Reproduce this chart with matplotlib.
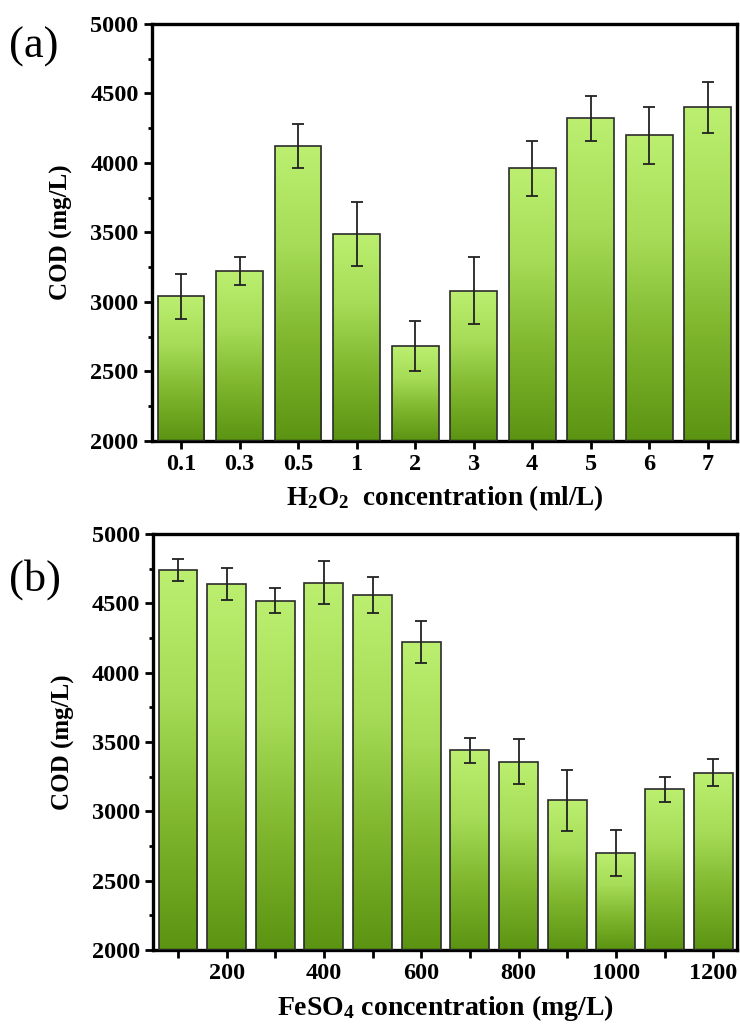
import numpy as np
import matplotlib
matplotlib.use("Agg")
import matplotlib.pyplot as plt
from matplotlib.colors import LinearSegmentedColormap
from matplotlib.ticker import MultipleLocator

plt.rcParams['font.family'] = ['Liberation Serif', 'DejaVu Serif']
plt.rcParams['mathtext.fontset'] = 'custom'
plt.rcParams['mathtext.rm'] = 'Liberation Serif:bold'
plt.rcParams['mathtext.it'] = 'Liberation Serif:bold'
plt.rcParams['mathtext.bf'] = 'Liberation Serif:bold'

# (a) H2O2 dose
h2o2_labels = ["0.1", "0.3", "0.5", "1", "2", "3", "4", "5", "6", "7"]
h2o2_cod = [3040, 3220, 4120, 3490, 2680, 3080, 3960, 4320, 4200, 4400]
h2o2_err = [160, 100, 160, 230, 180, 240, 200, 160, 205, 185]

# (b) FeSO4 dose
feso4_conc = [100, 200, 300, 400, 500, 600, 700, 800, 900, 1000, 1100, 1200]
feso4_cod = [4740, 4640, 4520, 4650, 4560, 4220, 3440, 3360, 3080, 2700, 3160, 3280]
feso4_err = [80, 115, 90, 155, 130, 150, 90, 165, 220, 165, 90, 100]

green = LinearSegmentedColormap.from_list(
    "grn", ["#5b9412", "#7fb62e", "#a6dc57", "#bcef70"])
grad = np.linspace(0, 1, 256).reshape(-1, 1)


def gradient_bars(ax, x, heights, width, base=2000):
    bars = ax.bar(x, np.array(heights) - base, width=width, bottom=base,
                  color="none", edgecolor="#2b2b2b", linewidth=1.2, zorder=3)
    for b in bars:
        x0, y0 = b.get_x(), b.get_y()
        w, h = b.get_width(), b.get_height()
        im = ax.imshow(grad, cmap=green, origin="lower", aspect="auto",
                       extent=(x0, x0 + w, y0, y0 + h), zorder=2)
        im.set_clip_path(b)
    return bars


def style_axis(ax):
    for s in ax.spines.values():
        s.set_linewidth(2.4)
    ax.set_ylim(2000, 5000)
    ax.yaxis.set_major_locator(MultipleLocator(500))
    ax.yaxis.set_minor_locator(MultipleLocator(250))
    ax.tick_params(axis="both", which="major", direction="out", length=6,
                   width=2, labelsize=17.5)
    ax.tick_params(axis="y", which="minor", direction="out", length=3, width=2)
    ax.tick_params(axis="x", which="minor", direction="out", length=6, width=2)
    for lab in ax.get_xticklabels() + ax.get_yticklabels():
        lab.set_fontweight("bold")
    ax.set_ylabel("COD (mg/L)", fontsize=18, fontweight="bold", labelpad=12)


fig = plt.figure(figsize=(7.4, 10.35), dpi=100)

ax1 = fig.add_axes([0.205, 0.574, 0.791, 0.403])
pos = np.arange(len(h2o2_labels))
gradient_bars(ax1, pos, h2o2_cod, 0.8)
ax1.errorbar(pos, h2o2_cod, yerr=h2o2_err, fmt="none", ecolor="#222222",
             elinewidth=1.3, capsize=4, capthick=1.3, zorder=4)
ax1.set_xlim(-0.5, 9.5)
ax1.set_xticks(pos)
ax1.set_xticklabels(h2o2_labels)
style_axis(ax1)
ax1.set_xlabel(r"H$_2$O$_2$  concentration (ml/L)", fontsize=19.5,
               fontweight="bold", labelpad=6)
fig.text(0.012, 0.955, "(a)", fontsize=32, va="center", ha="left")

ax2 = fig.add_axes([0.207, 0.082, 0.789, 0.402])
gradient_bars(ax2, feso4_conc, feso4_cod, 80)
ax2.errorbar(feso4_conc, feso4_cod, yerr=feso4_err, fmt="none",
             ecolor="#222222", elinewidth=1.3, capsize=4, capthick=1.3,
             zorder=4)
ax2.set_xlim(49, 1249)
ax2.xaxis.set_major_locator(MultipleLocator(200))
ax2.xaxis.set_minor_locator(MultipleLocator(100))
style_axis(ax2)
ax2.set_xlabel(r"FeSO$_4$ concentration (mg/L)", fontsize=20,
               fontweight="bold", labelpad=6)
fig.text(0.012, 0.44, "(b)", fontsize=32, va="center", ha="left")

fig.savefig("out.png", dpi=100)
